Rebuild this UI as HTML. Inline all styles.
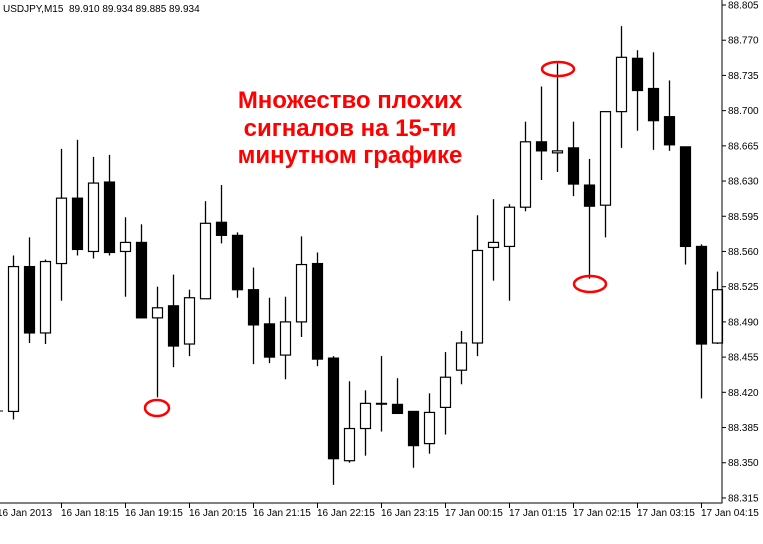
<!DOCTYPE html>
<html><head><meta charset="utf-8"><style>
html,body{margin:0;padding:0;background:#fff}
svg{display:block}
text{font-family:"Liberation Sans","DejaVu Sans",sans-serif}
</style></head><body>
<svg id="chart" width="763" height="544" viewBox="0 0 763 544" xmlns="http://www.w3.org/2000/svg">
<rect x="0" y="0" width="763" height="544" fill="#fff"/>
<text x="3" y="12" font-size="10" fill="#000" xml:space="preserve">USDJPY,M15  89.910 89.934 89.885 89.934</text>
<line x1="0" x2="3" y1="411" y2="411" stroke="#000"/>
<g id="candles"></g>
<g id="axes"></g>
<g fill="#f00" font-weight="bold" font-size="24" text-anchor="middle">
<text x="350" y="108">Множество плохих</text>
<text x="350" y="136">сигналов на 15-ти</text>
<text x="350" y="163">минутном графике</text>
</g>
<g fill="none" stroke="#f00" stroke-width="2.5">
<ellipse cx="157" cy="408" rx="12" ry="8"/>
<ellipse cx="558" cy="69" rx="16" ry="7"/>
<ellipse cx="590" cy="284" rx="16" ry="8"/>
</g>
</svg>
<script>
const opens=[88.401,88.545,88.479,88.548,88.613,88.560,88.629,88.560,88.569,88.494,88.506,88.468,88.513,88.589,88.576,88.522,88.488,88.457,88.490,88.548,88.454,88.352,88.384,88.409,88.408,88.401,88.369,88.405,88.442,88.469,88.564,88.565,88.604,88.669,88.658,88.663,88.626,88.606,88.699,88.752,88.722,88.694,88.664,88.565,88.469];
const highs=[88.556,88.574,88.552,88.662,88.671,88.654,88.656,88.594,88.587,88.525,88.537,88.522,88.610,88.626,88.579,88.544,88.514,88.515,88.575,88.559,88.456,88.431,88.422,88.456,88.434,88.401,88.419,88.460,88.481,88.596,88.612,88.607,88.689,88.724,88.747,88.689,88.652,88.699,88.784,88.760,88.758,88.730,88.664,88.567,88.540];
const lows=[88.393,88.469,88.468,88.511,88.556,88.553,88.556,88.515,88.494,88.415,88.445,88.456,88.513,88.568,88.514,88.448,88.449,88.433,88.475,88.446,88.328,88.350,88.357,88.381,88.399,88.345,88.359,88.378,88.428,88.456,88.531,88.511,88.600,88.631,88.639,88.615,88.533,88.574,88.663,88.680,88.661,88.660,88.547,88.414,88.468];
const closes=[88.545,88.479,88.550,88.613,88.562,88.628,88.559,88.569,88.494,88.504,88.466,88.514,88.588,88.576,88.522,88.487,88.455,88.490,88.547,88.453,88.354,88.384,88.409,88.409,88.399,88.367,88.400,88.435,88.469,88.561,88.569,88.604,88.669,88.660,88.660,88.627,88.605,88.699,88.753,88.720,88.690,88.666,88.565,88.468,88.522];
const priceTicks=["88.805","88.770","88.735","88.700","88.665","88.630","88.595","88.560","88.525","88.490","88.455","88.420","88.385","88.350","88.315"];
const timeLabels=["16 Jan 2013","16 Jan 18:15","16 Jan 19:15","16 Jan 20:15","16 Jan 21:15","16 Jan 22:15","16 Jan 23:15","17 Jan 00:15","17 Jan 01:15","17 Jan 02:15","17 Jan 03:15","17 Jan 04:15"];
const NS="http://www.w3.org/2000/svg";
const y=p=>5+(88.805-p)*1006;
const x=i=>13+i*16;
function mk(tag,attrs,parent){const e=document.createElementNS(NS,tag);for(const k in attrs)e.setAttribute(k,attrs[k]);parent.appendChild(e);return e;}
const cg=document.getElementById('candles');
for(let i=0;i<opens.length;i++){
  const cx=x(i)+0.5;
  const w=mk('line',{x1:cx,x2:cx,y1:y(highs[i]),y2:y(lows[i]),stroke:'#000','stroke-width':1.3},cg);
  
  
  const top=Math.min(y(opens[i]),y(closes[i])),bot=Math.max(y(opens[i]),y(closes[i]));
  const up=closes[i]>=opens[i];
  const b=mk('rect',{x:x(i)-4.5,y:top,width:10,height:Math.max(bot-top,0.8),fill:up?'#fff':'#000',stroke:'#000','stroke-width':1.2},cg);
  
  
}
const ag=document.getElementById('axes');
const f=mk('polyline',{points:'722,0 722,503 0,503',fill:'none',stroke:'#000','stroke-width':1},ag);


priceTicks.forEach(t=>{
  const yy=y(parseFloat(t));
  const tk=mk('line',{x1:722,x2:726,y1:yy,y2:yy,stroke:'#000'},ag);
  
  
  const tx=mk('text',{x:728,y:yy+3.5,'font-size':10,fill:'#000'},ag);
  tx.textContent=t;
  
  
});
timeLabels.forEach((t,j)=>{
  const xx=j===0?-3:x(3+4*(j-1));
  if(j>0){const tk=mk('line',{x1:xx+0.5,x2:xx+0.5,y1:503,y2:508,stroke:'#000'},ag);
  
  }
  const tx=mk('text',{x:xx,y:516,'font-size':10,fill:'#000'},ag);
  tx.textContent=t;
  
  
});
</script>
</body></html>
